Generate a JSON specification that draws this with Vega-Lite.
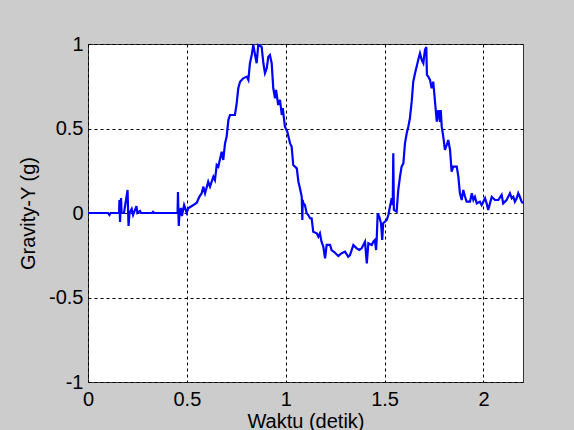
{
  "$schema": "https://vega.github.io/schema/vega-lite/v6.json",
  "autosize": {"type": "none"},
  "width": 435,
  "height": 338,
  "padding": {"left": 88, "top": 44, "right": 51, "bottom": 48},
  "background": "#cccccc",
  "config": {
    "view": {"fill": "white", "stroke": "#333333", "strokeWidth": 1},
    "font": "Liberation Sans",
    "axis": {
      "domain": false,
      "ticks": false,
      "grid": true,
      "gridColor": "#000000",
      "gridDash": [3, 3],
      "gridWidth": 1,
      "gridOpacity": 1,
      "labelFont": "Liberation Sans",
      "labelFontSize": 20,
      "labelColor": "#000000",
      "titleFont": "Liberation Sans",
      "titleFontSize": 20,
      "titleFontWeight": "normal",
      "titleColor": "#000000"
    }
  },
  "data": {
    "values": [
      {"t": 0.000, "g": 0.000}, {"t": 0.101, "g": 0.000}, {"t": 0.108, "g": -0.012}, {"t": 0.114, "g": 0.000},
      {"t": 0.157, "g": 0.000}, {"t": 0.159, "g": 0.077}, {"t": 0.162, "g": -0.053}, {"t": 0.167, "g": 0.089},
      {"t": 0.170, "g": 0.000}, {"t": 0.182, "g": 0.000}, {"t": 0.200, "g": 0.136}, {"t": 0.205, "g": -0.077},
      {"t": 0.210, "g": 0.000}, {"t": 0.221, "g": 0.024}, {"t": 0.228, "g": -0.012}, {"t": 0.245, "g": 0.041},
      {"t": 0.250, "g": 0.000}, {"t": 0.263, "g": 0.012}, {"t": 0.268, "g": 0.000}, {"t": 0.326, "g": 0.000},
      {"t": 0.329, "g": 0.012}, {"t": 0.331, "g": 0.000}, {"t": 0.453, "g": 0.000}, {"t": 0.455, "g": 0.124},
      {"t": 0.459, "g": -0.077}, {"t": 0.463, "g": 0.000}, {"t": 0.470, "g": 0.030}, {"t": 0.475, "g": -0.018},
      {"t": 0.486, "g": 0.047}, {"t": 0.499, "g": 0.002}, {"t": 0.507, "g": 0.028}, {"t": 0.533, "g": 0.047},
      {"t": 0.550, "g": 0.061}, {"t": 0.563, "g": 0.096}, {"t": 0.575, "g": 0.117}, {"t": 0.583, "g": 0.156},
      {"t": 0.592, "g": 0.117}, {"t": 0.608, "g": 0.185}, {"t": 0.617, "g": 0.156}, {"t": 0.634, "g": 0.215},
      {"t": 0.642, "g": 0.195}, {"t": 0.651, "g": 0.284}, {"t": 0.659, "g": 0.274}, {"t": 0.676, "g": 0.363},
      {"t": 0.684, "g": 0.314}, {"t": 0.693, "g": 0.412}, {"t": 0.701, "g": 0.451}, {"t": 0.710, "g": 0.550},
      {"t": 0.718, "g": 0.580}, {"t": 0.743, "g": 0.580}, {"t": 0.752, "g": 0.649}, {"t": 0.760, "g": 0.738},
      {"t": 0.769, "g": 0.777}, {"t": 0.785, "g": 0.797}, {"t": 0.803, "g": 0.807}, {"t": 0.811, "g": 0.787},
      {"t": 0.819, "g": 0.886}, {"t": 0.828, "g": 0.935}, {"t": 0.836, "g": 0.994}, {"t": 0.845, "g": 0.935},
      {"t": 0.853, "g": 0.886}, {"t": 0.861, "g": 0.994}, {"t": 0.878, "g": 0.984}, {"t": 0.887, "g": 0.886},
      {"t": 0.895, "g": 0.827}, {"t": 0.904, "g": 0.856}, {"t": 0.912, "g": 0.925}, {"t": 0.920, "g": 0.935},
      {"t": 0.929, "g": 0.886}, {"t": 0.937, "g": 0.738}, {"t": 0.946, "g": 0.679}, {"t": 0.951, "g": 0.728},
      {"t": 0.962, "g": 0.639}, {"t": 0.971, "g": 0.669}, {"t": 0.980, "g": 0.580}, {"t": 0.985, "g": 0.620},
      {"t": 0.996, "g": 0.511}, {"t": 1.008, "g": 0.481}, {"t": 1.022, "g": 0.412}, {"t": 1.030, "g": 0.392},
      {"t": 1.038, "g": 0.284}, {"t": 1.056, "g": 0.264}, {"t": 1.064, "g": 0.185}, {"t": 1.072, "g": 0.146},
      {"t": 1.081, "g": 0.096}, {"t": 1.084, "g": -0.041}, {"t": 1.086, "g": 0.077}, {"t": 1.089, "g": 0.057},
      {"t": 1.097, "g": 0.047}, {"t": 1.106, "g": -0.002}, {"t": 1.114, "g": -0.012}, {"t": 1.123, "g": -0.031},
      {"t": 1.131, "g": -0.031}, {"t": 1.139, "g": -0.111}, {"t": 1.157, "g": -0.120}, {"t": 1.165, "g": -0.140},
      {"t": 1.173, "g": -0.120}, {"t": 1.181, "g": -0.170}, {"t": 1.190, "g": -0.199}, {"t": 1.199, "g": -0.268},
      {"t": 1.207, "g": -0.189}, {"t": 1.224, "g": -0.189}, {"t": 1.232, "g": -0.219}, {"t": 1.249, "g": -0.235},
      {"t": 1.266, "g": -0.254}, {"t": 1.283, "g": -0.238}, {"t": 1.300, "g": -0.229}, {"t": 1.316, "g": -0.259},
      {"t": 1.325, "g": -0.249}, {"t": 1.342, "g": -0.189}, {"t": 1.359, "g": -0.209}, {"t": 1.372, "g": -0.219},
      {"t": 1.384, "g": -0.209}, {"t": 1.401, "g": -0.170}, {"t": 1.410, "g": -0.298}, {"t": 1.418, "g": -0.179},
      {"t": 1.435, "g": -0.189}, {"t": 1.443, "g": -0.170}, {"t": 1.451, "g": -0.160}, {"t": 1.457, "g": -0.219},
      {"t": 1.460, "g": -0.160}, {"t": 1.465, "g": -0.002}, {"t": 1.473, "g": -0.022}, {"t": 1.482, "g": -0.061},
      {"t": 1.488, "g": -0.160}, {"t": 1.493, "g": -0.061}, {"t": 1.511, "g": -0.041}, {"t": 1.519, "g": -0.012},
      {"t": 1.527, "g": 0.037}, {"t": 1.536, "g": 0.087}, {"t": 1.541, "g": 0.047}, {"t": 1.544, "g": 0.353},
      {"t": 1.547, "g": 0.018}, {"t": 1.561, "g": 0.008}, {"t": 1.569, "g": 0.136}, {"t": 1.578, "g": 0.215},
      {"t": 1.586, "g": 0.274}, {"t": 1.595, "g": 0.294}, {"t": 1.603, "g": 0.412}, {"t": 1.612, "g": 0.472},
      {"t": 1.620, "g": 0.511}, {"t": 1.628, "g": 0.560}, {"t": 1.637, "g": 0.659}, {"t": 1.645, "g": 0.777},
      {"t": 1.654, "g": 0.827}, {"t": 1.662, "g": 0.866}, {"t": 1.670, "g": 0.905}, {"t": 1.679, "g": 0.945},
      {"t": 1.688, "g": 0.905}, {"t": 1.696, "g": 0.886}, {"t": 1.704, "g": 0.964}, {"t": 1.711, "g": 0.982},
      {"t": 1.714, "g": 0.817}, {"t": 1.721, "g": 0.807}, {"t": 1.730, "g": 0.787}, {"t": 1.738, "g": 0.738},
      {"t": 1.746, "g": 0.777}, {"t": 1.755, "g": 0.659}, {"t": 1.764, "g": 0.540}, {"t": 1.768, "g": 0.580},
      {"t": 1.772, "g": 0.609}, {"t": 1.780, "g": 0.540}, {"t": 1.784, "g": 0.609}, {"t": 1.789, "g": 0.511},
      {"t": 1.797, "g": 0.451}, {"t": 1.805, "g": 0.373}, {"t": 1.814, "g": 0.402}, {"t": 1.822, "g": 0.432},
      {"t": 1.831, "g": 0.373}, {"t": 1.839, "g": 0.244}, {"t": 1.847, "g": 0.274}, {"t": 1.865, "g": 0.274},
      {"t": 1.873, "g": 0.215}, {"t": 1.881, "g": 0.117}, {"t": 1.890, "g": 0.077}, {"t": 1.898, "g": 0.136},
      {"t": 1.907, "g": 0.096}, {"t": 1.915, "g": 0.067}, {"t": 1.932, "g": 0.067}, {"t": 1.941, "g": 0.117},
      {"t": 1.949, "g": 0.077}, {"t": 1.957, "g": 0.096}, {"t": 1.966, "g": 0.057}, {"t": 1.982, "g": 0.067},
      {"t": 1.991, "g": 0.047}, {"t": 2.008, "g": 0.087}, {"t": 2.016, "g": 0.057}, {"t": 2.024, "g": 0.018},
      {"t": 2.033, "g": 0.057}, {"t": 2.042, "g": 0.096}, {"t": 2.058, "g": 0.077}, {"t": 2.075, "g": 0.077},
      {"t": 2.092, "g": 0.107}, {"t": 2.100, "g": 0.057}, {"t": 2.117, "g": 0.077}, {"t": 2.134, "g": 0.117},
      {"t": 2.143, "g": 0.087}, {"t": 2.151, "g": 0.096}, {"t": 2.159, "g": 0.067}, {"t": 2.168, "g": 0.087},
      {"t": 2.176, "g": 0.117}, {"t": 2.184, "g": 0.096}, {"t": 2.193, "g": 0.067}, {"t": 2.200, "g": 0.057}
    ]
  },
  "mark": {"type": "line", "color": "#0000ff", "strokeWidth": 2.2, "interpolate": "linear"},
  "encoding": {
    "x": {
      "field": "t",
      "type": "quantitative",
      "scale": {"domain": [0, 2.2], "nice": false, "zero": false},
      "axis": {
        "title": "Waktu (detik)",
        "values": [0, 0.5, 1, 1.5, 2],
        "labelExpr": "datum.value < 0 ? '-' + format(-datum.value, '~g') : format(datum.value, '~g')",
        "labelPadding": 7,
        "titlePadding": 2,
        "labelFlush": false,
        "labelOverlap": false
      }
    },
    "y": {
      "field": "g",
      "type": "quantitative",
      "scale": {"domain": [-1, 1], "nice": false, "zero": false},
      "axis": {
        "title": "Gravity-Y (g)",
        "values": [-1, -0.5, 0, 0.5, 1],
        "labelExpr": "datum.value < 0 ? '-' + format(-datum.value, '~g') : format(datum.value, '~g')",
        "labelPadding": 5,
        "titlePadding": 10,
        "labelFlush": false,
        "labelOverlap": false
      }
    }
  }
}
